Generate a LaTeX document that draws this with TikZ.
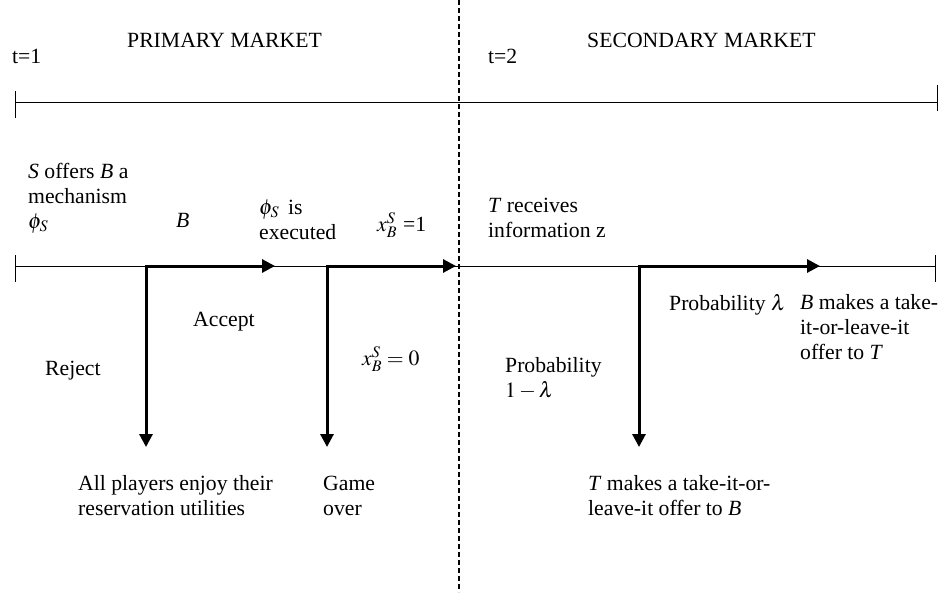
\documentclass[tikz,border=0pt]{standalone}
\usepackage{mathptmx}
\usepackage[no-math]{fontspec}
\setmainfont{Liberation Serif}
\usetikzlibrary{arrows.meta}
\begin{document}
\begin{tikzpicture}[x=1pt,y=-1pt,
  lbl/.style={anchor=base west, inner sep=0pt, align=left, font=\fontsize{21.7}{25}\selectfont},
  axisline/.style={line width=1pt},
  branch/.style={line width=3pt, line join=miter, {Triangle[length=13pt,width=13pt]}-{Triangle[length=13pt,width=13pt]}},
  divider/.style={line width=2pt, dash pattern=on 5pt off 3pt}
]
\path[use as bounding box, fill=white] (0,0) rectangle (942,598);

% divider
\coordinate (dtop) at (459,0);
\coordinate (dbot) at (459,592);
\draw[divider] (dtop) -- (dbot);

% top timeline
\coordinate (a1) at (15,102);
\coordinate (a2) at (937,102);
\draw[axisline] (a1) -- (a2);
\draw[axisline] ([yshift=-16]a1) -- ([yshift=11]a1);
\draw[axisline] ([yshift=-9]a2) -- ([yshift=17]a2);

% lower timeline
\coordinate (b1) at (15,266);
\coordinate (b2) at (935,266);
\draw[axisline] (b1) -- (b2);
\draw[axisline] ([yshift=-16]b1) -- ([yshift=11]b1);
\draw[axisline] ([yshift=-16]b2) -- ([yshift=11]b2);

% headings
\node[lbl] (pm) at (127,47) {PRIMARY MARKET};
\node[lbl] (sm) at (587,47) {SECONDARY MARKET};
\node[lbl] (t1) at (12,63) {t=1};
\node[lbl] (t2) at (488,63) {t=2};

% event labels
\node[lbl] (soffer) at (28,228) {\textit{S} offers \textit{B} a\\mechanism\\$\phi_S$};
\node[lbl] (bnode) at (176,227) {\textit{B}};
\node[lbl] (exec) at (259,239) {$\phi_S$\, is\\executed};
\node[lbl] (xone) at (377,231) {$x_B^S$\;{=}1};
\node[lbl] (trec) at (488,237) {\textit{T} receives\\information z};

% branches
\coordinate (c1) at (146,266);
\coordinate (c1r) at (275,266);
\coordinate (c1d) at (146,447);
\draw[branch] (c1d) -- (c1) -- (c1r);

\coordinate (c2) at (327,266);
\coordinate (c2r) at (456,266);
\coordinate (c2d) at (327,447);
\draw[branch] (c2d) -- (c2) -- (c2r);

\coordinate (c3) at (639,266);
\coordinate (c3r) at (820,266);
\coordinate (c3d) at (639,447);
\draw[branch] (c3d) -- (c3) -- (c3r);

% branch labels
\node[lbl] (accept) at (193,326) {Accept};
\node[lbl] (reject) at (45,375) {Reject};
\node[lbl] (xzero) at (362,365) {$x_B^S = 0$};
\node[lbl] (plam) at (669,310) {Probability $\lambda$};
\node[lbl] (bmakes) at (800,359) {\textit{B} makes a take-\\it-or-leave-it\\offer to \textit{T}};
\node[lbl] (p1lam) at (505,397) {Probability\\$1-\lambda$};

% outcomes
\node[lbl] (allp) at (78,515) {All players enjoy their\\reservation utilities};
\node[lbl] (game) at (323,515) {Game\\over};
\node[lbl] (tmakes) at (588,515) {\textit{T} makes a take-it-or-\\leave-it offer to \textit{B}};
\end{tikzpicture}
\end{document}
